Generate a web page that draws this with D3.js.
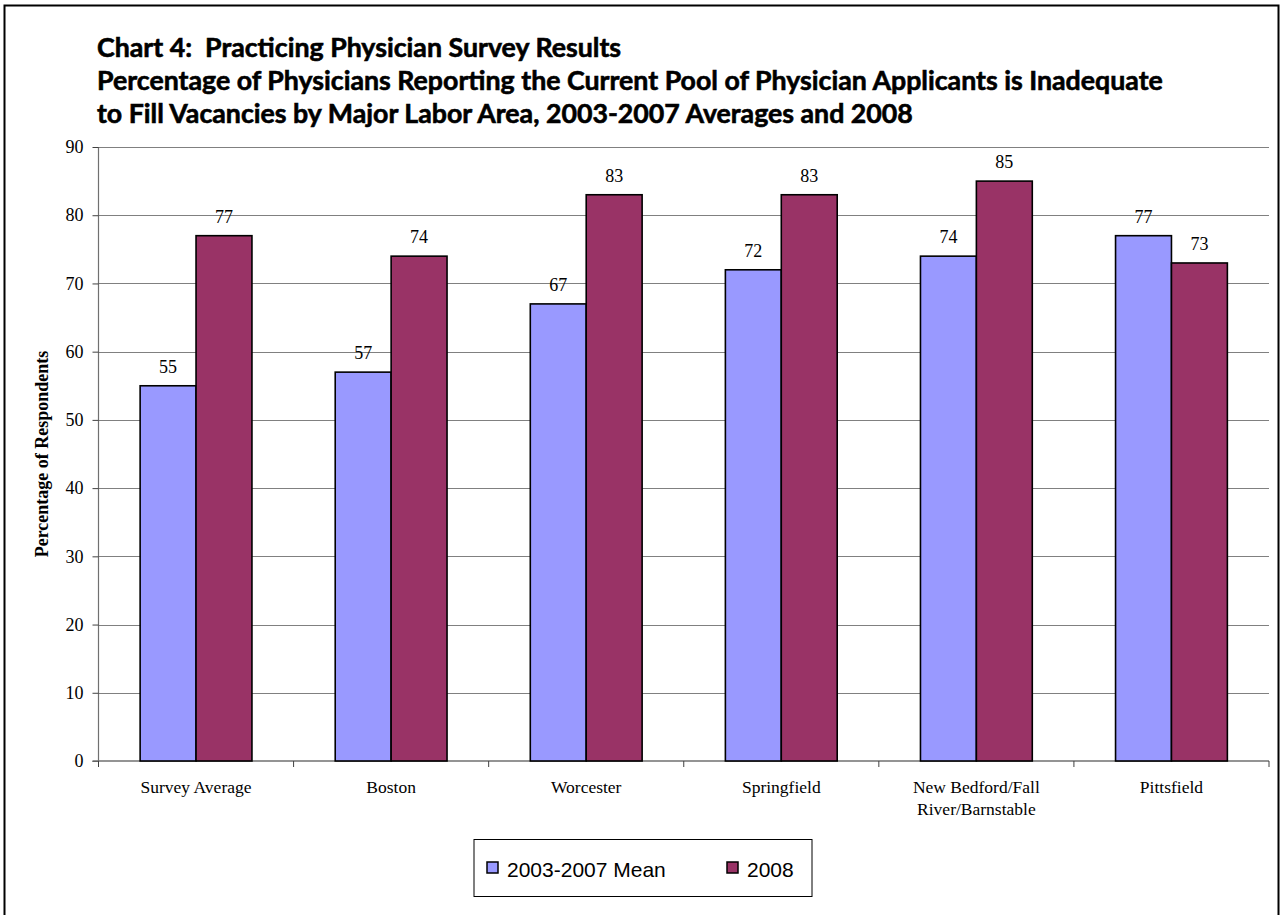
<!DOCTYPE html>
<html>
<head>
<meta charset="utf-8">
<script src="https://cdn.jsdelivr.net/npm/d3@7"></script>
<style>
  html, body { margin: 0; padding: 0; background: #fff; }
  svg { display: block; }
  .title text { white-space: pre; }
</style>
</head>
<body>
<svg id="chart" width="1285" height="915"></svg>
<script>
// Labour areas and survey results
const categories = ["Survey Average", "Boston", "Worcester", "Springfield", "New Bedford/Fall River/Barnstable", "Pittsfield"];
const categoryLines = [["Survey Average"], ["Boston"], ["Worcester"], ["Springfield"], ["New Bedford/Fall", "River/Barnstable"], ["Pittsfield"]];
const seriesNames = ["2003-2007 Mean", "2008"];
const mean20032007 = [55, 57, 67, 72, 74, 77];
const values2008 = [77, 74, 83, 83, 85, 73];
const yTicks = [0, 10, 20, 30, 40, 50, 60, 70, 80, 90];
const titleLines = [
  "Chart 4:  Practicing Physician Survey Results",
  "Percentage of Physicians Reporting the Current Pool of Physician Applicants is Inadequate",
  "to Fill Vacancies by Major Labor Area, 2003-2007 Averages and 2008"
];
const yAxisTitle = "Percentage of Respondents";
const colors = ["#9999FF", "#993366"];

const serif = "'Liberation Serif', 'Times New Roman', serif";
const svg = d3.select("#chart");

// outer frame
svg.append("rect")
  .attr("x", 4.5).attr("y", 5.5)
  .attr("width", 1274).attr("height", 920)
  .attr("fill", "none").attr("stroke", "#000").attr("stroke-width", 2);

const plot = { left: 98.5, right: 1269, top: 147, bottom: 761 };

const x0 = d3.scaleBand().domain(categories).range([plot.left, plot.right]).paddingInner(0).paddingOuter(0);
const x1 = d3.scaleBand().domain(seriesNames).range([0, x0.bandwidth()]).paddingInner(0).paddingOuter(0.7446);
const y = d3.scaleLinear().domain([0, 90]).range([plot.bottom, plot.top]);

// title
const title = svg.append("g").attr("class", "title")
  .attr("font-family", "Lato, 'Open Sans', sans-serif").attr("font-weight", "bold")
  .attr("fill", "#000").attr("stroke", "#000").attr("stroke-width", 0.6);
const titleY = [57, 90, 123];
const titleTexts = title.selectAll("text").data(titleLines).join("text")
  .attr("x", 97).attr("y", (d, i) => titleY[i])
  .attr("font-size", 24)
  .text(d => d);
// fit the long second line to its width
const w2 = titleTexts.nodes()[1].getComputedTextLength();
titleTexts.attr("font-size", 24 * 1066 / w2);

// gridlines
svg.append("g").selectAll("line").data(yTicks.filter(t => t > 0)).join("line")
  .attr("x1", plot.left).attr("x2", plot.right)
  .attr("y1", d => Math.round(y(d)) + 0.5).attr("y2", d => Math.round(y(d)) + 0.5)
  .attr("stroke", "#808080").attr("stroke-width", 1);

// y axis
const yAxis = d3.axisLeft(y).tickValues(yTicks).tickSize(6).tickPadding(9).tickFormat(d3.format("d"));
const yg = svg.append("g").attr("transform", `translate(${plot.left},0)`).call(yAxis);
yg.select(".domain").attr("stroke", "#707070").attr("stroke-width", 1.2).attr("d", `M0,${plot.top}V${plot.bottom}`);
yg.selectAll(".tick line").attr("stroke", "#404040");
yg.selectAll(".tick text").attr("font-family", serif).attr("font-size", 18).attr("fill", "#000");

// x axis
const xAxis = d3.axisBottom(x0).tickSize(0).tickFormat("");
const xg = svg.append("g").attr("transform", `translate(0,${plot.bottom})`).call(xAxis);
xg.select(".domain").attr("stroke", "#707070").attr("stroke-width", 1.5).attr("d", `M${plot.left - 6},0H${plot.right}`);
xg.selectAll(".tick").remove();
const boundaries = categories.map(c => x0(c)).concat([plot.right]);
xg.selectAll(".sep").data(boundaries).join("line")
  .attr("class", "sep")
  .attr("x1", d => d).attr("x2", d => d).attr("y1", 0).attr("y2", 6)
  .attr("stroke", "#404040");

// bars
const groups = svg.append("g").selectAll("g").data(categories).join("g")
  .attr("transform", d => `translate(${x0(d)},0)`);
groups.each(function(cat, i) {
  const vals = [mean20032007[i], values2008[i]];
  const g = d3.select(this);
  g.selectAll("rect").data(vals).join("rect")
    .attr("x", (v, j) => x1(seriesNames[j]))
    .attr("y", v => y(v))
    .attr("width", x1.bandwidth())
    .attr("height", v => y(0) - y(v))
    .attr("fill", (v, j) => colors[j])
    .attr("stroke", "#000").attr("stroke-width", 1.6);
  g.selectAll("text").data(vals).join("text")
    .attr("x", (v, j) => x1(seriesNames[j]) + x1.bandwidth() / 2)
    .attr("y", v => y(v) - 13)
    .attr("text-anchor", "middle")
    .attr("font-family", serif)
    .attr("font-size", 18)
    .text(v => v);
});

// category labels
const catLabels = svg.append("g").selectAll("text").data(categories).join("text")
  .attr("x", d => x0(d) + x0.bandwidth() / 2)
  .attr("y", 793)
  .attr("text-anchor", "middle")
  .attr("font-family", serif)
  .attr("font-size", 17.5)
  .attr("fill", "#000");
catLabels.each(function(d, i) {
  d3.select(this).selectAll("tspan").data(categoryLines[i]).join("tspan")
    .attr("x", x0(d) + x0.bandwidth() / 2)
    .attr("dy", (t, k) => k === 0 ? 0 : 22)
    .text(t => t);
});

// y axis title
svg.append("text")
  .attr("transform", `translate(48,${(plot.top + plot.bottom) / 2}) rotate(-90)`)
  .attr("text-anchor", "middle")
  .attr("font-family", serif)
  .attr("font-weight", "bold")
  .attr("font-size", 18)
  .text(yAxisTitle);

// legend
const legend = svg.append("g");
legend.append("rect")
  .attr("x", 474).attr("y", 839.5).attr("width", 338).attr("height", 57)
  .attr("fill", "#fff").attr("stroke", "#000").attr("stroke-width", 1);
const legendX = [487, 727];
const items = legend.selectAll("g.item").data(seriesNames).join("g").attr("class", "item");
items.append("rect")
  .attr("x", (d, i) => legendX[i]).attr("y", 862)
  .attr("width", 11).attr("height", 11)
  .attr("fill", (d, i) => colors[i]).attr("stroke", "#000").attr("stroke-width", 1.5);
items.append("text")
  .attr("x", (d, i) => legendX[i] + 20).attr("y", 877)
  .attr("font-family", "'Liberation Sans', Arial, sans-serif")
  .attr("font-size", 21)
  .text(d => d);
</script>
</body>
</html>
